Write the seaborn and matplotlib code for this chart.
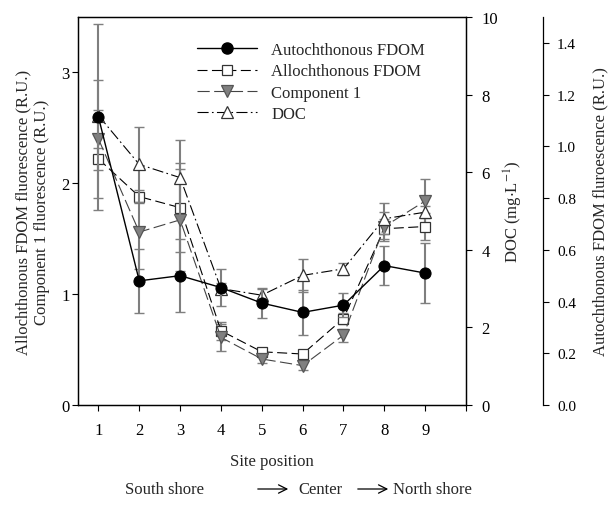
import numpy as np
import pandas as pd
import matplotlib
matplotlib.use("Agg")
import matplotlib.pyplot as plt
from matplotlib.lines import Line2D
from matplotlib.patches import FancyArrowPatch
import seaborn as sns

sites = [1, 2, 3, 4, 5, 6, 7, 8, 9]
x_ticks = [1, 2, 3, 4, 5, 6, 7, 8, 9, 10]
x_tick_labels = ["1", "2", "3", "4", "5", "6", "7", "8", "9", ""]

autoch = [1.114, 0.48, 0.50, 0.454, 0.394, 0.358, 0.386, 0.539, 0.51]
autoch_err = [0.36, 0.124, 0.141, 0.073, 0.058, 0.086, 0.047, 0.077, 0.116]

alloch = [2.22, 1.88, 1.78, 0.67, 0.48, 0.46, 0.78, 1.59, 1.61]
alloch_err = [0.10, 0.06, 0.40, 0.08, 0.03, 0.03, 0.05, 0.09, 0.12]

comp1 = [2.40, 1.56, 1.67, 0.61, 0.415, 0.355, 0.63, 1.61, 1.84]
comp1_err = [0.53, 0.33, 0.46, 0.12, 0.04, 0.04, 0.06, 0.13, 0.20]

doc = [7.46, 6.20, 5.86, 3.00, 2.83, 3.34, 3.51, 4.80, 4.97]
doc_err = [0.15, 0.97, 0.97, 0.15, 0.17, 0.43, 0.15, 0.40, 0.15]

left_ticks = [0, 1, 2, 3]
doc_ticks = [0, 2, 4, 6, 8, 10]
autoch_ticks = [0.0, 0.2, 0.4, 0.6, 0.8, 1.0, 1.2, 1.4]

sns.set_theme(style="ticks")
plt.rcParams["font.family"] = ["Liberation Serif", "DejaVu Serif"]
plt.rcParams["mathtext.fontset"] = "stix"
FS = 12

fig = plt.figure(figsize=(6.13, 5.10), dpi=100)
ax = fig.add_axes([78/613, 1-406/510, (466-78)/613, (406-18)/510])
ax_doc = ax.twinx()
ax_aut = ax.twinx()

ecol = "#7f7f7f"
dat = pd.DataFrame({"site": sites, "autoch": autoch, "alloch": alloch,
                    "comp1": comp1, "doc": doc})

eb = dict(fmt="none", ecolor=ecol, elinewidth=1.5, capsize=3.6, capthick=1.0, zorder=1)
ax.errorbar(sites, alloch, yerr=alloch_err, **eb)
ax.errorbar(sites, comp1, yerr=comp1_err, **eb)
ax_doc.errorbar(sites, doc, yerr=doc_err, **eb)
ax_aut.errorbar(sites, autoch, yerr=autoch_err, **eb)

alloch_style = dict(color="black", linewidth=0.8, linestyle=(0, (9, 4)), marker="s",
                    markersize=7, markerfacecolor="white", markeredgecolor="#333333", markeredgewidth=0.9)
comp_style = dict(color="#444444", linewidth=0.8, linestyle=(0, (11, 4)), marker="v",
                  markersize=8, markerfacecolor="#808080", markeredgecolor="#555555", markeredgewidth=0.9)
doc_style = dict(color="black", linewidth=0.8, linestyle=(0, (10, 3, 1.5, 3)), marker="^",
                 markersize=8, markerfacecolor="white", markeredgecolor="#333333", markeredgewidth=0.9)
aut_style = dict(color="black", linewidth=1.0, linestyle="-", marker="o",
                 markersize=8, markerfacecolor="black", markeredgecolor="black")

sns.lineplot(data=dat, x="site", y="alloch", ax=ax, zorder=3, **alloch_style)
sns.lineplot(data=dat, x="site", y="comp1", ax=ax, zorder=3, **comp_style)
sns.lineplot(data=dat, x="site", y="doc", ax=ax_doc, zorder=3, **doc_style)
sns.lineplot(data=dat, x="site", y="autoch", ax=ax_aut, zorder=3, **aut_style)

ax.set_xlim(0.5, 10)
ax.set_ylim(0, 3.5)
ax_doc.set_ylim(0, 10)
ax_aut.set_ylim(0, 1.5)

ax.set_xticks(x_ticks)
ax.set_xticklabels(x_tick_labels, fontsize=FS)
ax.set_yticks(left_ticks)
ax.set_yticklabels([str(t) for t in left_ticks], fontsize=FS)
ax_doc.set_yticks(doc_ticks)
ax_doc.set_yticklabels([str(t) for t in doc_ticks], fontsize=FS)
ax_aut.set_yticks(autoch_ticks)
ax_aut.set_yticklabels([f"{t:.1f}" for t in autoch_ticks], fontsize=FS)

for a in (ax, ax_doc, ax_aut):
    a.tick_params(direction="out", length=4, width=0.8, colors="black")
    for s in a.spines.values():
        s.set_linewidth(0.9)
        s.set_color("black")
ax.tick_params(axis="x", pad=8)
ax.tick_params(axis="y", pad=2)
ax_doc.tick_params(axis="y", pad=7)
ax_aut.tick_params(axis="y", pad=6)

ax.spines["top"].set_visible(True)
ax.spines["right"].set_visible(True)
ax_doc.spines["top"].set_visible(True)
ax_aut.spines["top"].set_visible(False)
ax_aut.spines["left"].set_visible(False)
ax_aut.spines["bottom"].set_visible(False)
ax_aut.spines["right"].set_position(("axes", 1 + 77/388))
ax_aut.spines["right"].set_bounds(0, 1.5)

ax.set_xlabel("Site position", fontsize=FS, labelpad=11)
ax.set_ylabel("Allochthonous FDOM fluorescence (R.U.)\nComponent 1 fluorescence (R.U.)",
              fontsize=FS, labelpad=8, linespacing=1.25)
ax_doc.set_ylabel("DOC (mg$\\cdot$L$^{-1}$)", fontsize=FS, labelpad=3)
ax_aut.set_ylabel("Autochthonous FDOM fluroescence (R.U.)", fontsize=FS, labelpad=12)

handles = [
    Line2D([], [], **aut_style),
    Line2D([], [], **alloch_style),
    Line2D([], [], **comp_style),
    Line2D([], [], **doc_style),
]
labels = ["Autochthonous FDOM", "Allochthonous FDOM", "Component 1", "DOC"]
ax_aut.legend(handles, labels, loc="upper left", bbox_to_anchor=(197/613, 1-43/510),
              bbox_transform=fig.transFigure, frameon=False, fontsize=FS,
              handlelength=3.6, handletextpad=0.85, labelspacing=0.32, borderpad=0, borderaxespad=0)

# bottom annotation
ty = 1 - 490/510
fig.text(125/613, ty, "South shore", fontsize=FS, va="center", ha="left")
fig.text(298/613, ty, "Center", fontsize=FS, va="center", ha="left")
fig.text(393/613, ty, "North shore", fontsize=FS, va="center", ha="left")
for x0, x1 in [(255, 291), (355, 391)]:
    fig.add_artist(FancyArrowPatch((x0/613, ty), (x1/613, ty),
                   transform=fig.transFigure, arrowstyle="->,head_length=6,head_width=3",
                   color="black", linewidth=0.9, mutation_scale=1))

fig.savefig("out.png", dpi=100)
